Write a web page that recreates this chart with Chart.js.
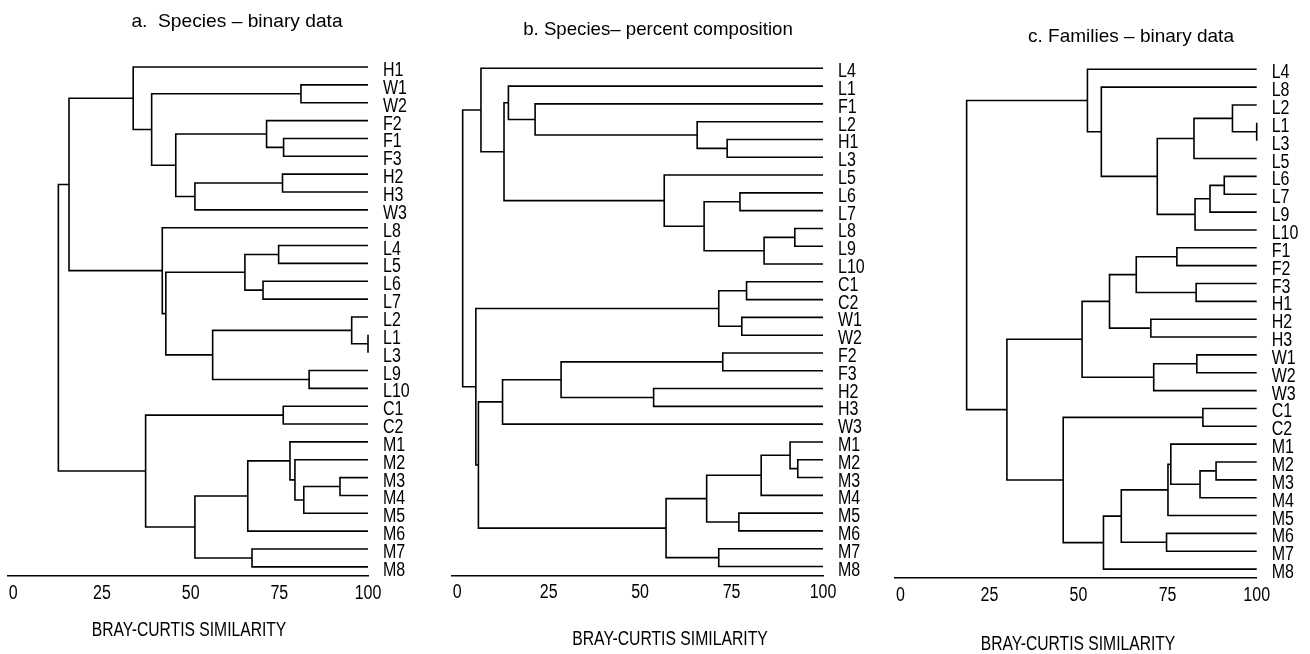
<!DOCTYPE html>
<html>
<head>
<meta charset="utf-8">
<script src="https://cdn.jsdelivr.net/npm/chart.js@4.4.1/dist/chart.umd.min.js"></script>
<style>
body { margin: 0; width: 1310px; height: 654px; background: #fff; position: relative; overflow: hidden;
       font-family: 'Liberation Sans', Arial, sans-serif; color: #000; }
canvas { position: absolute; top: 0; }
.lbl { position: absolute; white-space: nowrap; transform: translate(-50%, -50%); line-height: 1; font-size: 19px; }
.axis-title { font-size: 20px; }
</style>
</head>
<body>
<canvas id="chart-a" width="440" height="654" style="left:0px"></canvas>
<canvas id="chart-b" width="440" height="654" style="left:440px"></canvas>
<canvas id="chart-c" width="430" height="654" style="left:880px"></canvas>

<div class="lbl" data-w="211" style="left:237px; top:20px">a.&nbsp; Species – binary data</div>
<div class="lbl" data-w="270" style="left:658px; top:27.5px">b. Species– percent composition</div>
<div class="lbl" data-w="206" style="left:1131px; top:34.5px">c. Families – binary data</div>
<div class="lbl axis-title" data-w="195" style="left:188.5px; top:629px">BRAY-CURTIS SIMILARITY</div>
<div class="lbl axis-title" data-w="196" style="left:670px; top:637.5px">BRAY-CURTIS SIMILARITY</div>
<div class="lbl axis-title" data-w="195" style="left:1077.5px; top:642.5px">BRAY-CURTIS SIMILARITY</div>

<script>
const FONT = "'Liberation Sans', Arial, sans-serif";
const SQUEEZE = 0.8;
const similarityTicks = [0, 25, 50, 75, 100];

// a. Species - binary data
const leavesA = ['H1', 'W1', 'W2', 'F2', 'F1', 'F3', 'H2', 'H3', 'W3', 'L8', 'L4', 'L5', 'L6', 'L7',
    'L2', 'L1', 'L3', 'L9', 'L10', 'C1', 'C2', 'M1', 'M2', 'M3', 'M4', 'M5', 'M6', 'M7', 'M8'];
// [child, child, similarity] - a string is a leaf, a number is an earlier merge
const mergesA = [
    ['W1', 'W2', 81.1], ['F1', 'F3', 76.2], ['F2', 1, 71.4], ['H2', 'H3', 75.9], [3, 'W3', 51.2],
    [2, 4, 45.8], [0, 5, 39.0], ['H1', 6, 33.8], ['L4', 'L5', 74.8], ['L6', 'L7', 70.4],
    [8, 9, 65.3], ['L1', 'L3', 100], ['L2', 11, 95.4], ['L9', 'L10', 83.4], [12, 13, 56.2],
    [10, 14, 43.0], ['L8', 15, 42.0], [7, 16, 15.7], ['C1', 'C2', 76.1], ['M3', 'M4', 92.1],
    [19, 'M5', 81.9], ['M2', 20, 79.4], ['M1', 21, 78.0], [22, 'M6', 66.1], ['M7', 'M8', 67.3],
    [23, 24, 51.2], [18, 25, 37.3], [17, 26, 12.7]
];

// b. Species - percent composition
const leavesB = ['L4', 'L1', 'F1', 'L2', 'H1', 'L3', 'L5', 'L6', 'L7', 'L8', 'L9', 'L10', 'C1', 'C2',
    'W1', 'W2', 'F2', 'F3', 'H2', 'H3', 'W3', 'M1', 'M2', 'M3', 'M4', 'M5', 'M6', 'M7', 'M8'];
const mergesB = [
    ['H1', 'L3', 73.8], ['L2', 0, 65.6], ['F1', 1, 21.3], ['L1', 2, 14.0], ['L6', 'L7', 77.3],
    ['L8', 'L9', 92.3], [5, 'L10', 83.9], [4, 6, 67.5], ['L5', 7, 56.6], [3, 8, 12.8],
    ['L4', 9, 6.5], ['C1', 'C2', 79.1], ['W1', 'W2', 77.8], [11, 12, 71.5], ['F2', 'F3', 72.6],
    ['H2', 'H3', 53.7], [14, 15, 28.4], [16, 'W3', 12.4], ['M2', 'M3', 93.1], ['M1', 18, 91.0],
    [19, 'M4', 83.1], ['M5', 'M6', 77.0], [20, 21, 68.2], ['M7', 'M8', 71.5], [22, 23, 57.1],
    [17, 24, 5.8], [13, 25, 5.1], [10, 26, 1.5]
];

// c. Families - binary data
const leavesC = ['L4', 'L8', 'L2', 'L1', 'L3', 'L5', 'L6', 'L7', 'L9', 'L10', 'F1', 'F2', 'F3', 'H1',
    'H2', 'H3', 'W1', 'W2', 'W3', 'C1', 'C2', 'M1', 'M2', 'M3', 'M4', 'M5', 'M6', 'M7', 'M8'];
const mergesC = [
    ['L1', 'L3', 100], ['L2', 0, 93.2], [1, 'L5', 82.4], ['L6', 'L7', 90.9], [3, 'L9', 86.9],
    [4, 'L10', 82.7], [2, 5, 72.1], ['L8', 6, 56.4], ['L4', 7, 52.5], ['F1', 'F2', 77.6],
    ['F3', 'H1', 83.0], [9, 10, 66.2], ['H2', 'H3', 70.3], [11, 12, 58.7], ['W1', 'W2', 83.2],
    [14, 'W3', 71.1], [13, 15, 51.0], ['C1', 'C2', 84.9], ['M2', 'M3', 88.6], [18, 'M4', 84.1],
    ['M1', 19, 75.9], [20, 'M5', 75.1], ['M6', 'M7', 74.7], [21, 22, 62.0], [23, 'M8', 57.0],
    [17, 24, 45.7], [16, 25, 29.9], [8, 26, 18.6]
];

// each merge becomes one bracket: child -> height -> other child, NaN breaks the line
function dendroPoints(leaves, merges) {
    const nodes = [];
    const pos = ref => typeof ref === 'string' ? {x: 100, y: leaves.indexOf(ref)} : nodes[ref];
    const pts = [];
    merges.forEach(([a, b, h]) => {
        const pa = pos(a), pb = pos(b);
        pts.push({x: pa.x, y: pa.y}, {x: h, y: pa.y}, {x: h, y: pb.y}, {x: pb.x, y: pb.y}, {x: NaN, y: NaN});
        nodes.push({x: h, y: (pa.y + pb.y) / 2});
    });
    return pts;
}

function drawSqueezed(ctx, text, x, y, align) {
    ctx.save();
    ctx.translate(x, y);
    ctx.scale(SQUEEZE, 1);
    ctx.textAlign = align;
    ctx.fillText(text, 0, 0);
    ctx.restore();
}

// tick labels of both axes, narrowed like the plotter font of the original
function labelPlugin(leaves) {
    return {
        id: 'condensedLabels',
        afterDraw(chart) {
            const ctx = chart.ctx;
            const {x, y} = chart.scales;
            ctx.save();
            ctx.fillStyle = '#000';
            ctx.font = `20px ${FONT}`;
            ctx.textBaseline = 'alphabetic';
            y.ticks.forEach(t => drawSqueezed(ctx, leaves[t.value], y.left + 15, y.getPixelForValue(t.value) + 9, 'left'));
            x.ticks.forEach(t => drawSqueezed(ctx, String(t.value), x.getPixelForValue(t.value), x.top + 23, 'center'));
            ctx.restore();
        }
    };
}

function drawDendrogram(id, leaves, merges, box) {
    const ctx = document.getElementById(id).getContext('2d');
    new Chart(ctx, {
        type: 'scatter',
        data: {
            datasets: [{
                data: dendroPoints(leaves, merges),
                showLine: true,
                spanGaps: false,
                borderColor: '#000',
                borderWidth: 1.6,
                pointRadius: 0,
                clip: false
            }]
        },
        options: {
            responsive: false,
            animation: false,
            events: [],
            layout: { padding: { left: box.left, top: box.top, right: 0, bottom: 0 } },
            plugins: { legend: { display: false }, tooltip: { enabled: false } },
            scales: {
                x: {
                    type: 'linear', min: -1.5, max: 100,
                    grid: { display: false },
                    border: { display: true, color: '#000', width: 1.6 },
                    afterBuildTicks: s => { s.ticks = similarityTicks.map(v => ({ value: v })); },
                    afterFit: s => { s.height = box.xh; },
                    ticks: { display: false }
                },
                y: {
                    type: 'linear', position: 'right', reverse: true,
                    min: -0.5, max: leaves.length - 0.5,
                    grid: { display: false },
                    border: { display: false },
                    afterBuildTicks: s => { s.ticks = leaves.map((_, i) => ({ value: i })); },
                    afterFit: s => { s.width = box.yw; },
                    ticks: { display: false }
                }
            }
        },
        plugins: [labelPlugin(leaves)]
    });
}

drawDendrogram('chart-a', leavesA, mergesA, { left: 8, top: 58.1, yw: 72, xh: 78.2 });
drawDendrogram('chart-b', leavesB, mergesB, { left: 11.7, top: 59.4, yw: 57, xh: 78.6 });
drawDendrogram('chart-c', leavesC, mergesC, { left: 15, top: 60.4, yw: 53.3, xh: 76 });

// fit the titles to the widths they have in the original
document.querySelectorAll('.lbl').forEach(el => {
    const k = parseFloat(el.dataset.w) / el.offsetWidth;
    el.style.transform = `translate(-50%, -50%) scaleX(${k.toFixed(3)})`;
});
</script>
</body>
</html>
